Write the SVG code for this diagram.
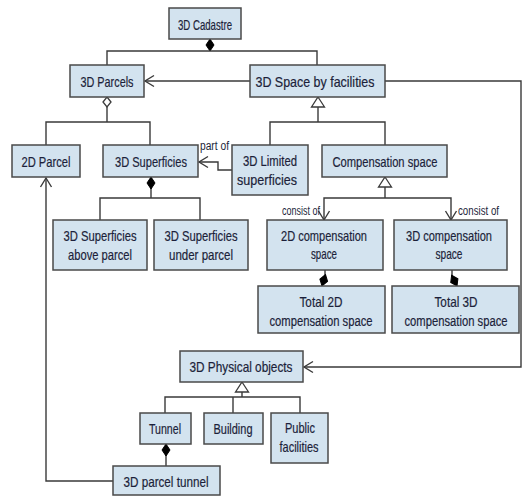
<svg xmlns="http://www.w3.org/2000/svg" width="524" height="496" viewBox="0 0 524 496">
  <style>
    .box { fill: #d3e3ef; stroke: #4a4a4a; stroke-width: 1.5; }
    .t { font-family: "Liberation Sans", Arial, sans-serif; font-size: 15px; fill: #1c1f3a; stroke: #1c1f3a; stroke-width: 0.2; text-anchor: middle; }
    .lbl { font-family: "Liberation Sans", Arial, sans-serif; font-size: 12px; fill: #1c1f3a; }
    .c { fill: none; stroke: #3a3a3a; stroke-width: 1.4; }
  </style>
  <defs>
    <marker id="dFill" markerUnits="userSpaceOnUse" markerWidth="14" markerHeight="10" refX="0" refY="5" orient="auto" viewBox="0 0 14 10" overflow="visible">
      <polygon points="0,5 6,1 12,5 6,9" fill="#000" stroke="#000" stroke-width="1"/>
    </marker>
    <marker id="dFillEnd" markerUnits="userSpaceOnUse" markerWidth="14" markerHeight="10" refX="12" refY="5" orient="auto" viewBox="0 0 14 10" overflow="visible">
      <polygon points="0,5 6,1 12,5 6,9" fill="#000" stroke="#000" stroke-width="1"/>
    </marker>
    <marker id="dOpen" markerUnits="userSpaceOnUse" markerWidth="14" markerHeight="10" refX="0" refY="5" orient="auto" viewBox="0 0 14 10" overflow="visible">
      <polygon points="0,5 5,1 10,5 5,9" fill="#fff" stroke="#3a3a3a" stroke-width="1.3"/>
    </marker>
    <!-- hollow generalization triangle, apex at the path start -->
    <marker id="tri" markerUnits="userSpaceOnUse" markerWidth="12" markerHeight="14" refX="0" refY="7" orient="auto" viewBox="0 0 12 14" overflow="visible">
      <polygon points="0,7 10,0.5 10,13.5" fill="#fff" stroke="#3a3a3a" stroke-width="1.3"/>
    </marker>
    <marker id="arr" markerUnits="userSpaceOnUse" markerWidth="12" markerHeight="12" refX="10" refY="6" orient="auto" viewBox="0 0 12 12" overflow="visible">
      <polyline points="1,0.5 10,6 1,11.5" fill="none" stroke="#3a3a3a" stroke-width="1.4"/>
    </marker>
  </defs>

  <!-- connectors -->
  <g id="connectors">
    <!-- 3D Cadastre composition -->
    <path class="c" d="M210,39 V51" marker-start="url(#dFill)"/>
    <path class="c" d="M107,65 V51 H317 V65"/>
    <!-- 3D Space by facilities -> 3D Parcels -->
    <path class="c" d="M250,81 H145" marker-end="url(#arr)"/>
    <!-- 3D Space by facilities -> 3D Physical objects -->
    <path class="c" d="M385,81 H521 V367 H304" marker-end="url(#arr)"/>
    <!-- 3D Parcels aggregation -->
    <path class="c" d="M107,97 V122" marker-start="url(#dOpen)"/>
    <path class="c" d="M46,145 V122 H150 V145"/>
    <!-- 3D Superficies composition -->
    <path class="c" d="M151,177 V198" marker-start="url(#dFill)"/>
    <path class="c" d="M100,220 V198 H200 V220"/>
    <!-- part of -->
    <path class="c" d="M232,170 H218 V162 H199" marker-end="url(#arr)"/>
    <!-- 3D Space by facilities generalization -->
    <path class="c" d="M318,97 V122" marker-start="url(#tri)"/>
    <path class="c" d="M270,145 V122 H385 V145"/>
    <!-- Compensation space generalization -->
    <path class="c" d="M385,177 V198" marker-start="url(#tri)"/>
    <path class="c" d="M385,198 H324 V220" marker-end="url(#arr)"/>
    <path class="c" d="M385,198 H451 V220" marker-end="url(#arr)"/>
    <!-- total compensation space compositions -->
    <path class="c" d="M325,270 V276 L322,286" marker-end="url(#dFillEnd)"/>
    <path class="c" d="M452,270 V276 L457,286" marker-end="url(#dFillEnd)"/>
    <!-- 3D Physical objects generalization -->
    <path class="c" d="M242,382 V397" marker-start="url(#tri)"/>
    <path class="c" d="M165,413 V397 H300 V413"/>
    <path class="c" d="M233,397 V413"/>
    <!-- Tunnel composition -->
    <path class="c" d="M166,444 V466" marker-start="url(#dFill)"/>
    <!-- 3D parcel tunnel -> 2D Parcel -->
    <path class="c" d="M113,481 H46 V178" marker-end="url(#arr)"/>
  </g>

  <!-- connector labels -->
  <g id="labels">
    <text class="lbl" x="200" y="150" textLength="29" lengthAdjust="spacingAndGlyphs">part of</text>
    <text class="lbl" x="282" y="215" textLength="38" lengthAdjust="spacingAndGlyphs">consist of</text>
    <text class="lbl" x="458" y="215" textLength="41" lengthAdjust="spacingAndGlyphs">consist of</text>
  </g>

  <g id="cadastre">
    <rect class="box" x="169" y="8" width="72" height="31"/>
    <text class="t" x="205" y="30" textLength="54" lengthAdjust="spacingAndGlyphs">3D Cadastre</text>
  </g>
  <g id="parcels3d">
    <rect class="box" x="70" y="65" width="74" height="32"/>
    <text class="t" x="107" y="87" textLength="53" lengthAdjust="spacingAndGlyphs">3D Parcels</text>
  </g>
  <g id="spaceFacilities">
    <rect class="box" x="250" y="65" width="135" height="32"/>
    <text class="t" x="315" y="87" textLength="119" lengthAdjust="spacingAndGlyphs">3D Space by facilities</text>
  </g>
  <g id="parcel2d">
    <rect class="box" x="12" y="145" width="68" height="32"/>
    <text class="t" x="46" y="167" textLength="49" lengthAdjust="spacingAndGlyphs">2D Parcel</text>
  </g>
  <g id="superficies">
    <rect class="box" x="103" y="145" width="95" height="32"/>
    <text class="t" x="151" y="167" textLength="72" lengthAdjust="spacingAndGlyphs">3D Superficies</text>
  </g>
  <g id="limitedSuperficies">
    <rect class="box" x="232" y="145" width="76" height="50"/>
    <text class="t" x="270" y="166" textLength="54" lengthAdjust="spacingAndGlyphs">3D Limited</text>
    <text class="t" x="267" y="185" textLength="60" lengthAdjust="spacingAndGlyphs">superficies</text>
  </g>
  <g id="compensation">
    <rect class="box" x="322" y="145" width="125" height="32"/>
    <text class="t" x="385" y="167" textLength="105" lengthAdjust="spacingAndGlyphs">Compensation space</text>
  </g>
  <g id="superficiesAbove">
    <rect class="box" x="53" y="220" width="94" height="50"/>
    <text class="t" x="100" y="241" textLength="73" lengthAdjust="spacingAndGlyphs">3D Superficies</text>
    <text class="t" x="100" y="260" textLength="64" lengthAdjust="spacingAndGlyphs">above parcel</text>
  </g>
  <g id="superficiesUnder">
    <rect class="box" x="154" y="220" width="94" height="50"/>
    <text class="t" x="201" y="241" textLength="73" lengthAdjust="spacingAndGlyphs">3D Superficies</text>
    <text class="t" x="201" y="260" textLength="64" lengthAdjust="spacingAndGlyphs">under parcel</text>
  </g>
  <g id="compensation2d">
    <rect class="box" x="267" y="220" width="116" height="50"/>
    <text class="t" x="324" y="241" textLength="86" lengthAdjust="spacingAndGlyphs">2D compensation</text>
    <text class="t" x="324" y="259" textLength="26" lengthAdjust="spacingAndGlyphs">space</text>
  </g>
  <g id="compensation3d">
    <rect class="box" x="394" y="220" width="113" height="50"/>
    <text class="t" x="449" y="241" textLength="86" lengthAdjust="spacingAndGlyphs">3D compensation</text>
    <text class="t" x="449" y="259" textLength="27" lengthAdjust="spacingAndGlyphs">space</text>
  </g>
  <g id="total2d">
    <rect class="box" x="258" y="286" width="127" height="47"/>
    <text class="t" x="321" y="307" textLength="43" lengthAdjust="spacingAndGlyphs">Total 2D</text>
    <text class="t" transform="translate(321,326) scale(0.75,1)">compensation space</text>
  </g>
  <g id="total3d">
    <rect class="box" x="392" y="286" width="127" height="47"/>
    <text class="t" x="456" y="307" textLength="43" lengthAdjust="spacingAndGlyphs">Total 3D</text>
    <text class="t" transform="translate(456,326) scale(0.75,1)">compensation space</text>
  </g>
  <g id="physicalObjects">
    <rect class="box" x="180" y="351" width="123" height="31"/>
    <text class="t" x="241" y="372" textLength="103" lengthAdjust="spacingAndGlyphs">3D Physical objects</text>
  </g>
  <g id="tunnel">
    <rect class="box" x="140" y="413" width="51" height="31"/>
    <text class="t" x="165" y="434" textLength="32" lengthAdjust="spacingAndGlyphs">Tunnel</text>
  </g>
  <g id="building">
    <rect class="box" x="204" y="413" width="59" height="31"/>
    <text class="t" x="233" y="434" textLength="39" lengthAdjust="spacingAndGlyphs">Building</text>
  </g>
  <g id="publicFacilities">
    <rect class="box" x="271" y="413" width="57" height="50"/>
    <text class="t" x="300" y="433" textLength="30" lengthAdjust="spacingAndGlyphs">Public</text>
    <text class="t" x="299" y="452" textLength="39" lengthAdjust="spacingAndGlyphs">facilities</text>
  </g>
  <g id="parcelTunnel">
    <rect class="box" x="113" y="466" width="107" height="29"/>
    <text class="t" x="166" y="487" textLength="85" lengthAdjust="spacingAndGlyphs">3D parcel tunnel</text>
  </g>
</svg>
